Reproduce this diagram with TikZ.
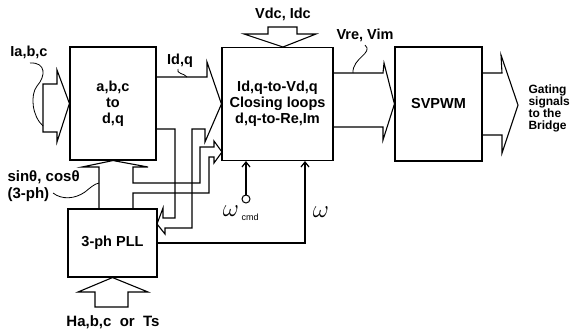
\documentclass[tikz,border=0pt]{standalone}
\usepackage{fontspec}
\setmainfont{Liberation Sans}
\usetikzlibrary{arrows.meta}
\begin{document}
\begin{tikzpicture}[x=1pt,y=-1pt,line width=1.1pt,line join=miter,
  blk/.style={draw,inner sep=0pt,align=center,font=\bfseries\fontsize{14.5}{16}\selectfont},
  lbl/.style={inner sep=0pt,align=left,font=\bfseries\fontsize{14.5}{16}\selectfont},
  fat/.style={draw,line width=1.1pt},
  thinarr/.style={-{Straight Barb[length=5pt,width=8pt,line width=1.2pt]},line width=1.1pt},
  lead/.style={line width=0.8pt}]
\useasboundingbox (0,0) rectangle (571,332);

% blocks
\node[blk,minimum width=86pt,minimum height=113pt] (conv) at (113,103.5) {a,b,c\\to\\d,q};
\node[blk,minimum width=111pt,minimum height=113pt] (ctrl) at (277.5,104) {Id,q-to-Vd,q\\Closing loops\\d,q-to-Re,Im};
\node[blk,minimum width=87pt,minimum height=114pt] (svpwm) at (438.5,104) {SVPWM};
\node[blk,minimum width=89pt,minimum height=68pt] (pll) at (112.5,243) {3-ph PLL};

% fat arrow Ia,b,c -> conv
\draw[fat] (43,84) -- (57,84) -- (57,70) -- (conv.west) -- (57,142) -- (57,132) -- (43,132) -- cycle;

% fat arrow Id,q -> ctrl, with branch down into PLL
\draw[fat] (156,77) -- (207,77) -- (207,62) -- (ctrl.west) -- (205,142) -- (205,129)
  -- (192,129) -- (192,228) -- (165,228) -- (165,234) -- (157,224) -- (163,208)
  -- (163,218) -- (175,218) -- (175,129) -- (156,129);

% fat arrow sin/cos from PLL -> conv, branch -> ctrl
\draw[fat] (99,209) -- (99,167) -- (82,167) -- (conv.south) -- (148,167) -- (133,167)
  -- (133,183) -- (200,183) -- (200,147) -- (214,147) -- (214,141) -- (222,152)
  -- (214,163) -- (214,157) -- (209,157) -- (209,193) -- (133,193) -- (133,209);

% fat arrow Ha,b,c or Ts -> PLL
\draw[fat] (95,307) -- (95,292) -- (78,292) -- (pll.south) -- (148,292) -- (128,292) -- (128,307) -- cycle;

% fat arrow Vdc, Idc -> ctrl
\draw[fat] (268,27) -- (297,27) -- (297,34) -- (316,34) -- (283,47) -- (244,34) -- (268,34) -- cycle;

% fat arrow ctrl -> svpwm
\draw[fat] (333,73) -- (383,73) -- (384,63) -- (svpwm.west) -- (383,140) -- (383,127) -- (333,127);

% fat arrow svpwm -> gating
\draw[fat] (482,73) -- (502,73) -- (501,55) -- (518,105) -- (502,153) -- (502,135) -- (482,135);

% omega feedback
\coordinate (wx) at (305,0);
\draw[thinarr] (pll.east) -| (ctrl.south -| wx);
% omega cmd
\node[circle,draw,line width=1pt,minimum size=8pt,inner sep=0pt] (cmd) at (246,199) {};
\draw[thinarr] (cmd) -- (cmd |- ctrl.south);

% labels
\node[lbl] (lIa) at (29,52) {Ia,b,c};
\draw[lead] (30,63) .. controls (46,62) and (46,76) .. (37,86) .. controls (30,95) and (32,116) .. (43,126);
\node[lbl] (lId) at (180,61) {Id,q};
\draw[lead] (178,69) .. controls (176,74) and (184,73) .. (187,77);
\node[lbl] (lVdc) at (283,14) {Vdc, Idc};
\node[lbl] (lVre) at (365,35) {Vre, Vim};
\draw[lead] (365,45) .. controls (374,53) and (352,58) .. (353,73);
\node[lbl,anchor=west,font=\bfseries\fontsize{15}{16}\selectfont] (lsin) at (7,177) {sinθ, cosθ};
\node[lbl,anchor=west,font=\bfseries\fontsize{15}{16}\selectfont] (l3ph) at (7,195) {(3-ph)};
\draw[lead] (53,193) .. controls (62,200) and (75,199) .. (85,192) .. controls (90,188) and (94,184) .. (99,183);
\node[lbl,font=\bfseries\fontsize{15}{16}\selectfont] (lHa) at (113,322) {Ha,b,c\ \ or\ \ Ts};
\node[lbl,anchor=west,font=\bfseries\fontsize{12}{12}\selectfont] (lgate) at (528,108) {Gating\\signals\\to the\\Bridge};
\node[inner sep=0pt,font=\fontsize{24}{24}\selectfont] (lw) at (321,212) {$\omega$};
\node[inner sep=0pt,font=\fontsize{24}{24}\selectfont] (lwc) at (231,211) {$\omega$};
\node[inner sep=0pt,anchor=west,font=\fontsize{9}{9}\selectfont] (lcmd) at (241,217) {cmd};
\end{tikzpicture}
\end{document}
